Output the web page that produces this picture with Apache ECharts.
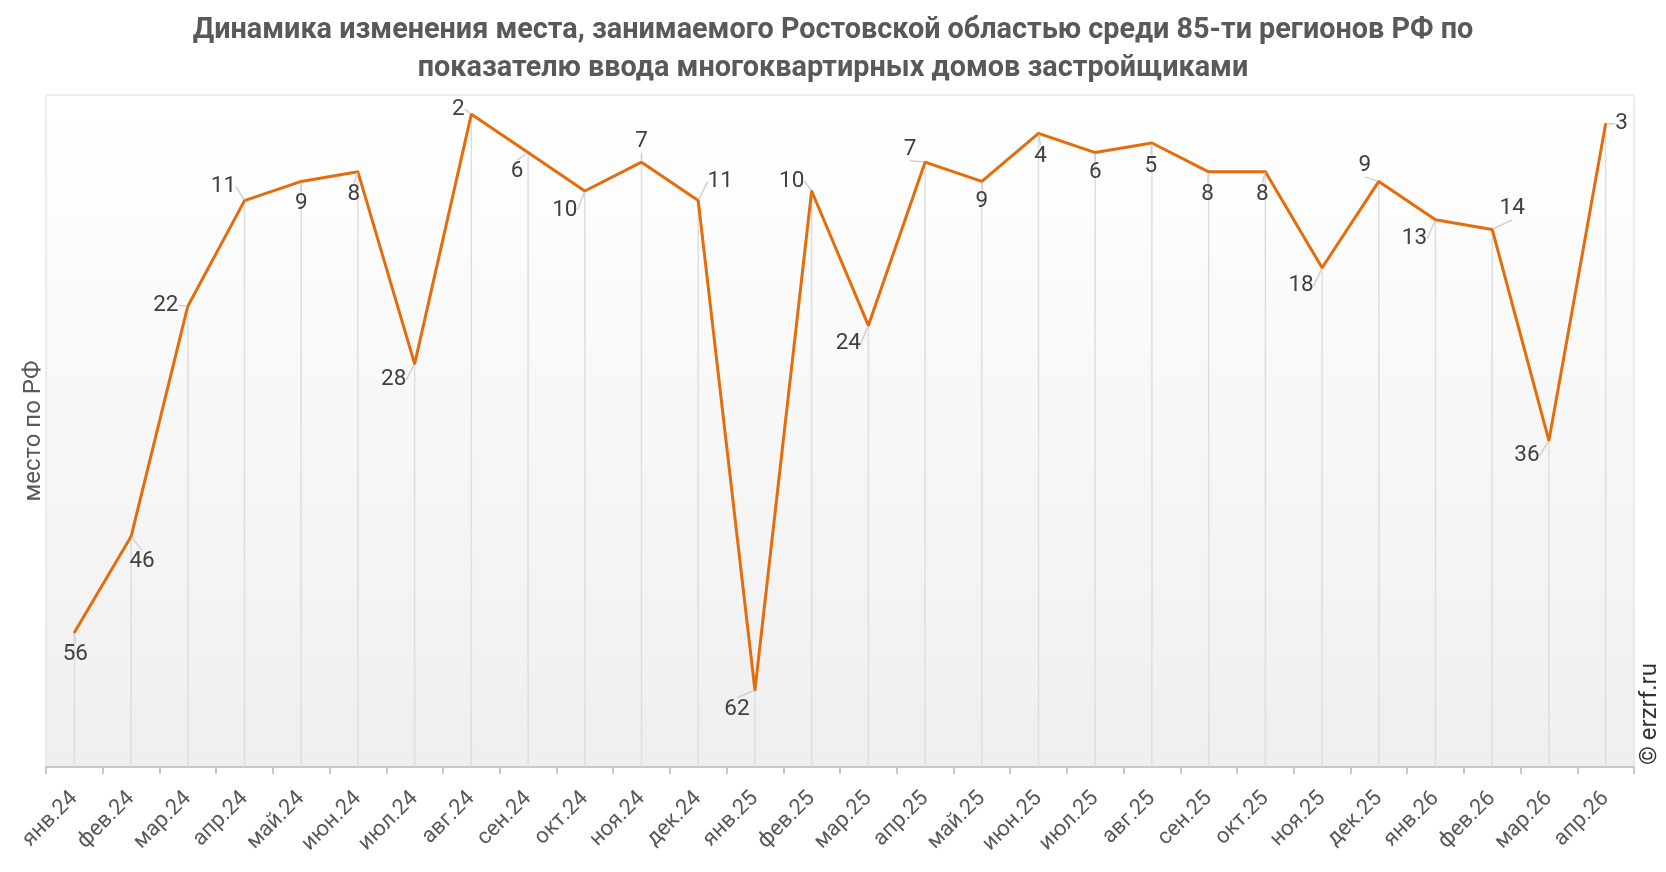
<!DOCTYPE html>
<html>
<head>
<meta charset="utf-8">
<script src="https://cdn.jsdelivr.net/npm/echarts@6/dist/echarts.min.js"></script>
<style>
html,body{margin:0;padding:0;background:#fff;}
#chart{width:1666px;height:872px;}
</style>
</head>
<body>
<div id="chart"></div>
<script>
const categories = ['янв.24','фев.24','мар.24','апр.24','май.24','июн.24','июл.24','авг.24','сен.24','окт.24','ноя.24','дек.24',
  'янв.25','фев.25','мар.25','апр.25','май.25','июн.25','июл.25','авг.25','сен.25','окт.25','ноя.25','дек.25',
  'янв.26','фев.26','мар.26','апр.26'];
const ranks = [56,46,22,11,9,8,28,2,6,10,7,11,62,10,24,7,9,4,6,5,8,8,18,9,13,14,36,3];
const titleText = 'Динамика изменения места, занимаемого Ростовской областью среди 85-ти регионов РФ по\nпоказателю ввода многоквартирных домов застройщиками';
const yAxisName = 'место по РФ';
const watermark = '© erzrf.ru';
const yMin = 0, yMax = 70;

// label placement offsets (px) relative to each point
const labelOffsets = [[1,22],[11,25],[-22,-1],[-21,-14],[0,22],[-4,23],[-21,16],[-13,-5],[-11,19],[-20,19],[0,-21],[22,-19],
  [-18,19],[-20,-10],[-20,18],[-15,-13],[0,20],[2,23],[0,20],[-1,23],[-1,23],[-3,23],[-21,18],[-14,-16],[-21,19],[20,-21],[-22,15],[16,0]];

const chart = echarts.init(document.getElementById('chart'));
const font = 'Roboto, "Noto Sans", sans-serif';
chart.setOption({
  animation: false,
  textStyle: {fontFamily: font},
  title: {
    text: titleText,
    left: 'center',
    top: 7,
    textStyle: {fontSize: 28.8, fontWeight: 'bold', color: '#595959', lineHeight: 38, fontFamily: font}
  },
  grid: {
    left: 46, right: 32, top: 95, bottom: 105,
    show: true,
    borderColor: '#dcdcdc',
    borderWidth: 1,
    backgroundColor: new echarts.graphic.LinearGradient(0,0,0,1,[{offset:0,color:'#ffffff'},{offset:1,color:'#efefef'}])
  },
  xAxis: {
    type: 'category',
    data: categories,
    position: 'bottom',
    boundaryGap: true,
    axisLine: {onZero: false, lineStyle: {color: '#c8c8c8', width: 2}},
    axisTick: {show: true, length: 7, lineStyle: {color: '#c8c8c8', width: 2}},
    axisLabel: {rotate: 45, fontSize: 22, color: '#595959', margin: 28, interval: 0},
    splitLine: {show: false}
  },
  yAxis: {
    type: 'value',
    inverse: true,
    min: yMin, max: yMax,
    name: yAxisName,
    nameLocation: 'middle',
    nameRotate: 90,
    nameGap: 0,
    nameTextStyle: {fontSize: 24, color: '#595959'},
    axisLine: {show: false},
    axisTick: {show: false},
    axisLabel: {show: false},
    splitLine: {show: false}
  },
  graphic: [{
    type: 'text',
    x: 1650, y: 714,
    rotation: Math.PI/2,
    style: {text: watermark, fontSize: 24, fill: '#333333', align: 'center', verticalAlign: 'middle', fontFamily: font}
  }],
  series: [
    {
      type: 'custom',
      z: 1,
      silent: true,
      data: ranks.map((v,i)=>[i,v]),
      renderItem: function(params, api){
        const p1 = api.coord([api.value(0), api.value(1)]);
        const p2 = api.coord([api.value(0), yMax]);
        return {type:'line', shape:{x1:p1[0],y1:p1[1],x2:p2[0],y2:p2[1]}, style:{stroke:'#dedede', lineWidth:1.5}};
      }
    },
    {
      type: 'line',
      z: 3,
      data: ranks,
      symbol: 'circle',
      symbolSize: 2,
      showSymbol: true,
      lineStyle: {color: '#e46c0a', width: 3},
      itemStyle: {color: '#e46c0a'},
      label: {show: true, fontSize: 22.5, color: '#404040', position: 'top'},
      labelLine: {show: true, lineStyle: {color: '#d0d0d0', width: 1.5}},
      labelLayout: function(p){
        const o = labelOffsets[p.dataIndex];
        return {
          x: p.rect.x + p.rect.width/2 + o[0],
          y: p.rect.y + p.rect.height/2 + o[1],
          align: 'center',
          verticalAlign: 'middle'
        };
      }
    }
  ]
});
</script>
</body>
</html>
